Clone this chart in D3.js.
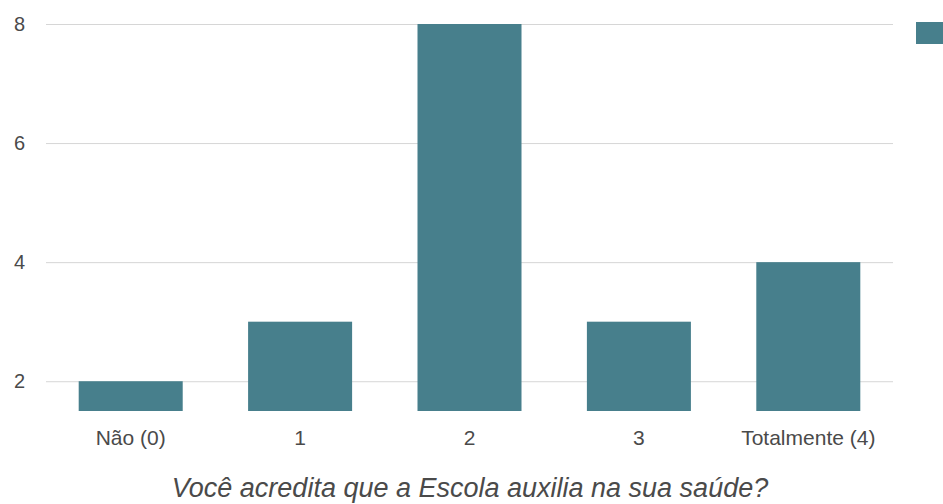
<!DOCTYPE html>
<html>
<head>
<meta charset="utf-8">
<script src="https://cdn.jsdelivr.net/npm/d3@7"></script>
<style>
  body { margin: 0; background: #fff; }
  svg text { font-family: "Liberation Sans", Arial, sans-serif; }
</style>
</head>
<body>
<div id="chart"></div>
<script>
const categories = ["Não (0)", "1", "2", "3", "Totalmente (4)"]
const values = [2, 3, 8, 3, 4]
const yTicks = [2, 4, 6, 8]
const title = "Você acredita que a Escola auxilia na sua saúde?"

var width = 943,
    height = 504

var svg = d3.select('#chart')
  .append("svg")
  .attr("width", width)
  .attr("height", height)

var x = d3.scaleBand()
  .domain(categories)
  .range([46, 893])
  .paddingInner(0.386)
  .paddingOuter(0.193)

var y = d3.scaleLinear()
  .domain([1.5, 8])
  .range([411, 24])

// gridlines
svg.append("g")
  .attr("class", "grid")
  .selectAll("line")
  .data(yTicks)
  .enter().append("line")
    .attr("x1", 46)
    .attr("x2", 893)
    .attr("y1", function(d) { return y(d) + 0.5 })
    .attr("y2", function(d) { return y(d) + 0.5 })
    .attr("stroke", "#d6d6d6")
    .attr("stroke-width", 1)

// y labels
svg.append("g")
  .selectAll("text")
  .data(yTicks)
  .enter().append("text")
    .attr("x", 25)
    .attr("y", function(d) { return y(d) })
    .attr("dy", "0.35em")
    .attr("text-anchor", "end")
    .attr("font-size", 20)
    .attr("fill", "#4a4a4a")
    .text(function(d) { return d })

// bars
svg.append("g")
  .selectAll("rect")
  .data(values)
  .enter().append("rect")
    .attr("x", function(d, i) { return x(categories[i]) })
    .attr("width", x.bandwidth())
    .attr("y", function(d) { return y(d) })
    .attr("height", function(d) { return y(1.5) - y(d) })
    .attr("fill", "#477f8c")

// x labels
svg.append("g")
  .selectAll("text")
  .data(categories)
  .enter().append("text")
    .attr("x", function(d) { return x(d) + x.bandwidth() / 2 })
    .attr("y", 445)
    .attr("text-anchor", "middle")
    .attr("font-size", 21)
    .attr("fill", "#4a4a4a")
    .text(function(d) { return d })

// legend swatch (cut off at right edge)
svg.append("rect")
  .attr("x", 916)
  .attr("y", 22)
  .attr("width", 30)
  .attr("height", 22)
  .attr("fill", "#477f8c")

// axis title
svg.append("text")
  .attr("x", 470)
  .attr("y", 497)
  .attr("text-anchor", "middle")
  .attr("font-size", 27)
  .attr("font-style", "italic")
  .attr("fill", "#4a4a4a")
  .text(title)
</script>
</body>
</html>
